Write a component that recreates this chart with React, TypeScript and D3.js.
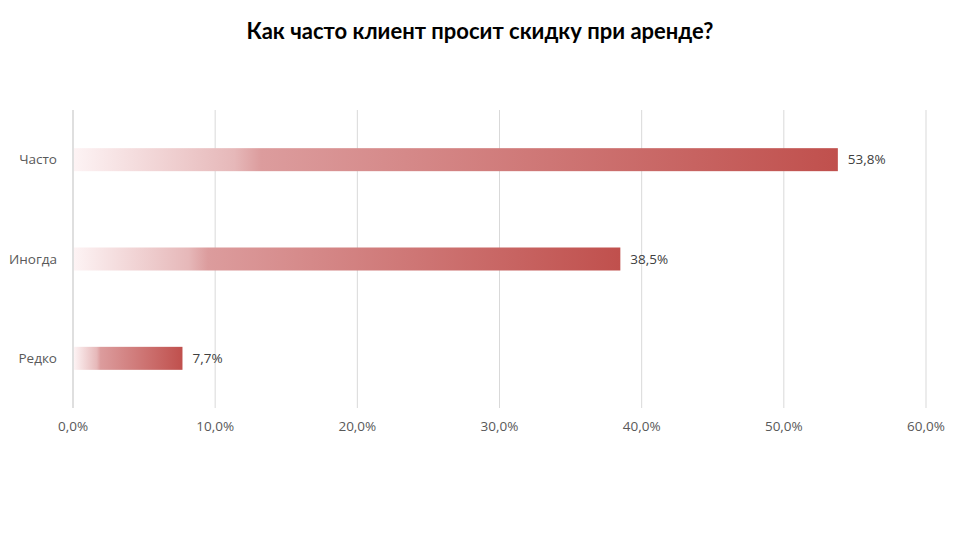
import React from "react";
import * as d3 from "d3";

const categories = ["Часто", "Иногда", "Редко"];
const values = [53.8, 38.5, 7.7];
const valueLabels = ["53,8%", "38,5%", "7,7%"];
const tickValues = [0, 10, 20, 30, 40, 50, 60];
const tickLabels = ["0,0%", "10,0%", "20,0%", "30,0%", "40,0%", "50,0%", "60,0%"];
const title = "Как часто клиент просит скидку при аренде?";

export default function App() {
  const W = 960, H = 540;
  const left = 73, right = 926, top = 110, bottom = 408;
  const x = d3.scaleLinear().domain([0, 60]).range([left, right]);
  const y = d3.scaleBand().domain(categories).range([top, bottom]).paddingInner(0).paddingOuter(0);
  const barH = 23;
  const titleFont = "Lato, sans-serif";
  const font = "'Open Sans', sans-serif";
  return (
    <svg width={W} height={H} style={{ position: "absolute", left: 0, top: 0, background: "#fff" }}>
      <defs>
        <linearGradient id="barGrad" x1="0" y1="0" x2="1" y2="0">
          <stop offset="0" stopColor="#fdf3f4" />
          <stop offset="0.21" stopColor="#e6b8b9" />
          <stop offset="0.245" stopColor="#dc9c9d" />
          <stop offset="1" stopColor="#c0504d" />
        </linearGradient>
      </defs>
      <rect width={W} height={H} fill="#fff" />
      <text x={480} y={39} textAnchor="middle" fontFamily={titleFont} fontWeight="bold" fontSize={22} fill="#000">
        {title}
      </text>
      {tickValues.map((t, i) => (
        <g key={t}>
          <line x1={x(t)} x2={x(t)} y1={top} y2={bottom} stroke={i === 0 ? "#bfbfbf" : "#d9d9d9"} strokeWidth={1} />
          <text x={x(t)} y={431} textAnchor="middle" fontFamily={font} fontSize={13.5} fill="#595959">
            {tickLabels[i]}
          </text>
        </g>
      ))}
      {categories.map((c, i) => {
        const cy = (y(c) as number) + y.bandwidth() / 2;
        return (
          <g key={c}>
            <rect x={x(0) + 1} y={cy - barH / 2} width={x(values[i]) - x(0) - 1} height={barH} fill="url(#barGrad)" />
            <text x={57} y={cy + 4.5} textAnchor="end" fontFamily={font} fontSize={13.5} fill="#595959">
              {c}
            </text>
            <text x={x(values[i]) + 10} y={cy + 4.5} textAnchor="start" fontFamily={font} fontSize={13.5} fill="#404040">
              {valueLabels[i]}
            </text>
          </g>
        );
      })}
    </svg>
  );
}
